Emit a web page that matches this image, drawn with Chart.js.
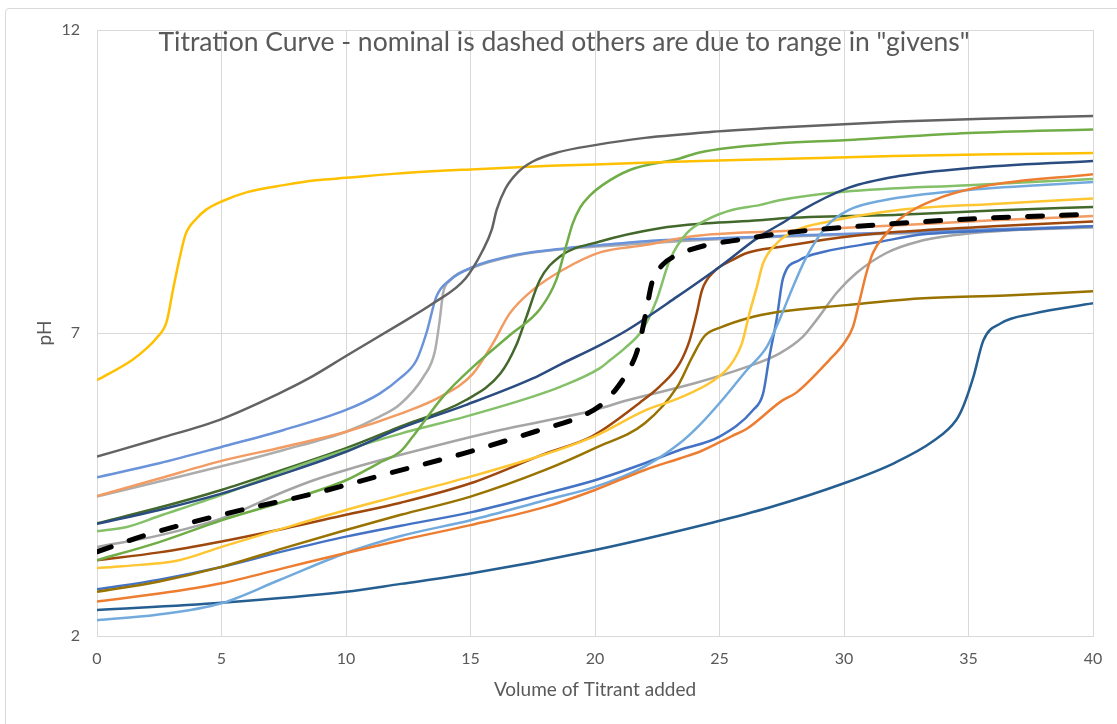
<!DOCTYPE html>
<html>
<head>
<meta charset="utf-8">
<title>Titration Curve</title>
<script src="https://cdn.jsdelivr.net/npm/chart.js@4.4.1/dist/chart.umd.min.js"></script>
<style>
    html, body { margin: 0; padding: 0; background: #fff; overflow: hidden; }
    #wrap { position: relative; width: 1117px; height: 724px; }
    #frame {
        position: absolute; left: 5px; top: 8px; width: 1130px; height: 740px;
        border: 1px solid #D9D9D9; border-radius: 4px; pointer-events: none;
    }
    #chart-title {
        position: absolute; left: 564px; top: 25px; transform: translateX(-50%);
        white-space: nowrap; font-family: Lato, 'Open Sans', sans-serif;
        font-size: 26.5px; line-height: 32px; color: #595959;
    }
</style>
</head>
<body>
<div id="wrap">
    <canvas id="titration" width="1117" height="724"></canvas>
    <div id="frame"></div>
    <div id="chart-title">Titration Curve - nominal is dashed others are due to range in "givens"</div>
</div>
<script>
// Axis ticks
const xTicks = [0, 5, 10, 15, 20, 25, 30, 35, 40];
const yTicks = [2, 7, 12];

// Each series: [volume, pH] pairs
const nominal = [[0,3.39],[2,3.67],[5,4.0],[8.7,4.35],[11.5,4.66],[14.7,5.01],[17.8,5.4],[19.3,5.6],[20.2,5.8],[20.8,6.05],[21.3,6.35],[21.65,6.65],[21.85,6.95],[22.05,7.35],[22.3,7.85],[22.7,8.12],[23.2,8.27],[23.8,8.37],[24.7,8.47],[25.5,8.52],[27.4,8.64],[32.2,8.81],[36,8.9],[40,8.96]];
const darkGrey = [[0,4.96],[2.5,5.26],[5,5.58],[7.3,6.0],[8.5,6.25],[10,6.62],[12.2,7.16],[13.5,7.49],[14.8,7.9],[15.5,8.37],[15.85,8.7],[16.05,9.03],[16.4,9.38],[16.9,9.65],[17.5,9.83],[18.5,9.98],[20,10.1],[22,10.22],[24.7,10.32],[27.4,10.39],[32.2,10.49],[36,10.54],[40,10.58]];
const gold = [[0,6.22],[1.4,6.55],[2,6.75],[2.4,6.92],[2.8,7.19],[3.05,7.71],[3.3,8.2],[3.55,8.62],[4,8.89],[4.4,9.04],[5,9.17],[6,9.32],[7.5,9.44],[8.8,9.52],[10,9.56],[12,9.63],[15,9.7],[18.2,9.76],[20,9.78],[24.2,9.84],[27.4,9.87],[32,9.92],[36,9.95],[40,9.97]];
const green = [[0,3.25],[2.5,3.55],[5,3.91],[7.5,4.22],[10,4.57],[11.3,4.85],[12.2,5.05],[12.7,5.3],[13.9,5.95],[15.1,6.44],[16.6,6.97],[17.8,7.4],[18.45,7.88],[18.85,8.45],[19.1,8.8],[19.4,9.07],[19.8,9.27],[20.3,9.44],[21.4,9.69],[23.4,9.88],[24.2,9.98],[27.4,10.13],[30,10.18],[35,10.3],[40,10.36]];
const navy = [[0,3.85],[2.5,4.08],[5,4.35],[7.5,4.68],[10,5.04],[12.2,5.43],[14.8,5.81],[17.5,6.25],[18.6,6.48],[20.2,6.8],[21.3,7.05],[23.3,7.6],[25,8.09],[26.6,8.59],[27.7,8.86],[28.2,9.0],[30.2,9.4],[32.2,9.59],[35,9.72],[40,9.84]];
const orange = [[0,2.57],[2.5,2.7],[5,2.87],[7.5,3.12],[10,3.37],[12.2,3.58],[15,3.83],[18,4.13],[20,4.41],[22,4.74],[23.4,4.93],[24.2,5.04],[25.5,5.3],[26.1,5.42],[27.5,5.88],[28.1,6.02],[29.4,6.55],[30,6.83],[30.36,7.1],[30.63,7.54],[30.9,7.99],[31.16,8.32],[31.7,8.64],[32.2,8.87],[33.6,9.19],[35.6,9.42],[40,9.62]];
const lightGreen = [[0,3.73],[1.2,3.8],[2.5,3.98],[5,4.33],[7.5,4.72],[10,5.07],[12.2,5.34],[14.8,5.62],[17.5,5.95],[18.6,6.11],[20.2,6.42],[20.6,6.55],[21.2,6.75],[21.9,7.05],[22.47,7.54],[23.0,8.2],[23.67,8.64],[24.6,8.89],[25.5,9.03],[26.6,9.11],[27.4,9.19],[30,9.33],[35,9.44],[40,9.54]];
const lightBlue = [[0,2.26],[2.4,2.35],[5,2.54],[7.3,2.92],[10,3.37],[12.2,3.65],[15,3.91],[18,4.24],[20,4.46],[22,4.8],[23.4,5.18],[24.2,5.48],[25.1,5.89],[26.1,6.39],[26.9,6.77],[27.4,7.21],[27.95,7.76],[28.5,8.26],[29.3,8.76],[30.2,9.03],[31.6,9.19],[35,9.36],[40,9.49]];
const yellow = [[0,3.12],[1,3.15],[3.3,3.25],[5,3.47],[7.5,3.78],[10,4.08],[12,4.3],[15,4.63],[18,5.0],[20,5.3],[22,5.72],[23.4,5.93],[24.7,6.2],[25.4,6.45],[25.9,6.83],[26.2,7.32],[26.5,7.76],[26.75,8.15],[27.3,8.48],[28.1,8.7],[29.4,8.84],[32.2,9.03],[36,9.13],[40,9.22]];
const darkGreen = [[0,3.86],[2.5,4.12],[5,4.41],[7.5,4.75],[10,5.1],[12.2,5.46],[14.8,5.89],[16.2,6.33],[16.84,6.8],[17.25,7.27],[17.78,7.87],[18.58,8.26],[20.2,8.51],[22.6,8.73],[24.5,8.81],[26.6,8.86],[27.4,8.89],[32.2,8.95],[36,9.02],[40,9.08]];
const peach = [[0,4.31],[2.5,4.6],[5,4.89],[7.5,5.12],[10,5.37],[12.2,5.67],[13.8,5.95],[15.1,6.33],[15.9,6.83],[16.57,7.32],[17.5,7.71],[18.7,8.04],[20.2,8.33],[22,8.45],[24,8.6],[27.4,8.68],[32.2,8.78],[36,8.86],[40,8.93]];
const brown = [[0,3.25],[2.5,3.38],[5,3.56],[7.5,3.77],[10,4.0],[12.2,4.2],[15,4.52],[18,5.01],[19.9,5.3],[21.8,5.85],[22.6,6.12],[23.4,6.5],[23.8,6.88],[24.07,7.3],[24.3,7.71],[24.8,8.02],[25.5,8.2],[26.1,8.32],[27.4,8.42],[30.1,8.59],[32.2,8.67],[36,8.76],[40,8.84]];
const olive = [[0,2.73],[2.5,2.9],[5,3.14],[7.5,3.45],[10,3.75],[12.2,4.0],[15,4.3],[18,4.74],[20,5.1],[22,5.51],[23.3,6.11],[23.9,6.6],[24.4,6.95],[25.1,7.1],[26.1,7.24],[27.4,7.35],[30.1,7.46],[33,7.57],[36.5,7.62],[40,7.69]];
const blue = [[0,2.77],[2.5,2.93],[5,3.14],[7.5,3.4],[10,3.64],[12.2,3.82],[15,4.04],[18,4.35],[20,4.57],[22,4.85],[23.4,5.07],[25,5.29],[26.35,5.73],[26.75,6.0],[27.0,6.6],[27.3,7.24],[27.55,7.9],[28.2,8.2],[29.2,8.34],[31.4,8.5],[33,8.62],[36,8.69],[40,8.76]];
const grey = [[0,3.47],[2.5,3.66],[5,3.94],[7.5,4.38],[8.7,4.57],[10,4.74],[12.2,4.99],[16.2,5.4],[18.6,5.6],[20,5.73],[21.3,5.89],[24,6.17],[26.1,6.44],[27.4,6.66],[28.35,6.94],[29.0,7.27],[29.7,7.66],[30.5,7.99],[31.7,8.32],[33,8.51],[35,8.64],[40,8.76]];
const steelBlue = [[0,2.43],[5,2.55],[10,2.73],[12.2,2.86],[15,3.03],[20,3.42],[24.7,3.87],[27,4.12],[30,4.52],[32,4.85],[33.6,5.22],[34.5,5.56],[34.8,5.8],[35.2,6.28],[35.6,6.88],[36.3,7.16],[37.6,7.32],[40,7.49]];
const cornflower = [[0,4.62],[2.5,4.85],[5,5.12],[7.5,5.4],[10,5.73],[11.35,6.0],[12.16,6.25],[12.83,6.55],[13.23,7.0],[13.63,7.6],[14.16,7.87],[15.1,8.09],[16.84,8.29],[18.85,8.4],[20.2,8.45],[22.6,8.53],[24.7,8.56],[27.4,8.6],[32.2,8.66],[36,8.71],[40,8.76]];
const silver = [[0,4.3],[2.5,4.55],[5,4.8],[7.5,5.07],[10,5.37],[11.35,5.62],[12.16,5.82],[13.1,6.27],[13.56,6.68],[13.76,7.2],[13.9,7.66],[14.16,7.86],[15.1,8.08],[16.84,8.28],[18.85,8.39],[20.2,8.43],[24.5,8.54],[27.4,8.59],[32.2,8.64],[36,8.69],[40,8.74]];

const textColor = '#595959';
const gridColor = '#D9D9D9';
const fontFamily = "Lato, 'Open Sans', sans-serif";

// first dataset is painted on top
const seriesList = [
    { name: 'Nominal', data: nominal, color: '#000000', dashed: true },
    { name: 'Run 1', data: darkGrey, color: '#636363' },
    { name: 'Run 2', data: gold, color: '#FFC000' },
    { name: 'Run 3', data: green, color: '#70AD47' },
    { name: 'Run 4', data: navy, color: '#2A4C80' },
    { name: 'Run 5', data: orange, color: '#ED7D31' },
    { name: 'Run 6', data: lightGreen, color: '#84C068' },
    { name: 'Run 7', data: lightBlue, color: '#72AADD' },
    { name: 'Run 8', data: yellow, color: '#FFC633' },
    { name: 'Run 9', data: darkGreen, color: '#43682B' },
    { name: 'Run 10', data: peach, color: '#F29B62' },
    { name: 'Run 11', data: brown, color: '#9E480E' },
    { name: 'Run 12', data: olive, color: '#997300' },
    { name: 'Run 13', data: blue, color: '#4472C4' },
    { name: 'Run 14', data: grey, color: '#A5A5A5' },
    { name: 'Run 15', data: steelBlue, color: '#255E91' },
    { name: 'Run 16', data: cornflower, color: '#6A93D9' },
    { name: 'Run 17', data: silver, color: '#ADADAD' }
];

const datasets = seriesList.map(s => ({
    label: s.name,
    data: s.data,
    borderColor: s.color,
    backgroundColor: s.color,
    borderWidth: s.dashed ? 5 : 2.5,
    borderDash: s.dashed ? [15, 19] : [],
    borderCapStyle: s.dashed ? 'round' : 'butt',
    borderJoinStyle: 'round',
    pointRadius: 0,
    fill: false,
    cubicInterpolationMode: 'monotone'
}));

new Chart(document.getElementById('titration'), {
    type: 'line',
    data: { datasets: datasets },
    options: {
        responsive: false,
        animation: false,
        devicePixelRatio: 1,
        layout: { padding: { left: 0, right: 24, top: 30, bottom: 0 } },
        plugins: {
            legend: { display: false },
            tooltip: { enabled: false }
        },
        scales: {
            x: {
                type: 'linear',
                min: 0,
                max: 40,
                afterFit: scale => { scale.height = 88; },
                afterBuildTicks: scale => { scale.ticks = xTicks.map(v => ({ value: v })); },
                grid: { color: gridColor, drawTicks: false },
                border: { color: gridColor },
                ticks: { padding: 13, color: textColor, font: { family: fontFamily, size: 16 } },
                title: {
                    display: true,
                    text: 'Volume of Titrant added',
                    color: textColor,
                    font: { family: fontFamily, size: 19 },
                    padding: { top: 0, bottom: 23 }
                }
            },
            y: {
                type: 'linear',
                min: 2,
                max: 12,
                afterFit: scale => { scale.width = 97; },
                afterBuildTicks: scale => { scale.ticks = yTicks.map(v => ({ value: v })); },
                grid: { color: gridColor, drawTicks: false },
                border: { color: gridColor },
                ticks: { padding: 17, color: textColor, font: { family: fontFamily, size: 16 } },
                title: {
                    display: true,
                    text: 'pH',
                    color: textColor,
                    font: { family: fontFamily, size: 19 },
                    padding: { top: 33, bottom: 0 }
                }
            }
        }
    }
});
</script>
</body>
</html>
